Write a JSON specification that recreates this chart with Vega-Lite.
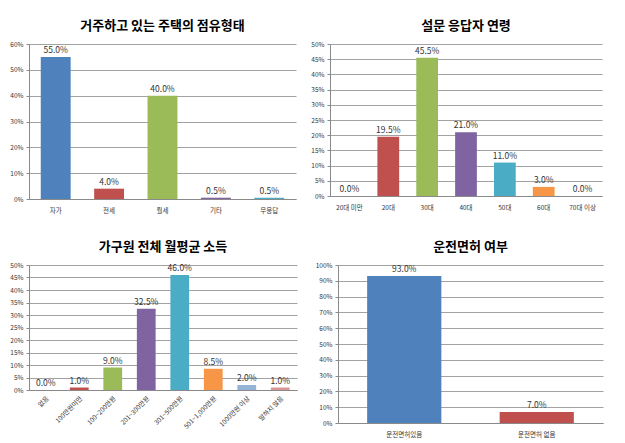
{
  "$schema": "https://vega.github.io/schema/vega-lite/v6.json",
  "background": "white",
  "padding": {"left": 9, "top": 20, "right": 5, "bottom": 5},
  "spacing": 27,
  "datasets": {
    "tenure": [
      {"cat": "자가", "v": 0.55},
      {"cat": "전세", "v": 0.04},
      {"cat": "월세", "v": 0.40},
      {"cat": "기타", "v": 0.005},
      {"cat": "무응답", "v": 0.005}
    ],
    "age": [
      {"cat": "20대 미만", "v": 0.0},
      {"cat": "20대", "v": 0.195},
      {"cat": "30대", "v": 0.455},
      {"cat": "40대", "v": 0.21},
      {"cat": "50대", "v": 0.11},
      {"cat": "60대", "v": 0.03},
      {"cat": "70대 이상", "v": 0.0}
    ],
    "income": [
      {"cat": "없음", "v": 0.0},
      {"cat": "100만원미만", "v": 0.01},
      {"cat": "100~200만원", "v": 0.09},
      {"cat": "201~300만원", "v": 0.325},
      {"cat": "301~500만원", "v": 0.46},
      {"cat": "501~1,000만원", "v": 0.085},
      {"cat": "1000만원 이상", "v": 0.02},
      {"cat": "말하지 않음", "v": 0.01}
    ],
    "license": [
      {"cat": "운전면허있음", "v": 0.93},
      {"cat": "운전면허 없음", "v": 0.07}
    ]
  },
  "resolve": {"scale": {"color": "independent"}},
  "vconcat": [
    {
      "spacing": 14,
      "resolve": {"scale": {"color": "independent"}},
      "hconcat": [
        {
          "title": {"text": "거주하고 있는 주택의 점유형태"},
          "width": 267, "height": 155,
          "data": {"name": "tenure"},
          "encoding": {
            "x": {"field": "cat", "type": "nominal", "sort": null, "scale": {"paddingInner": 0.44, "paddingOuter": 0.22}, "axis": {"title": null, "labelAngle": 0}},
            "y": {"field": "v", "type": "quantitative", "scale": {"domain": [0, 0.6]}, "axis": {"title": null, "format": ".0%", "values": [0, 0.1, 0.2, 0.3, 0.4, 0.5, 0.6]}}
          },
          "layer": [
            {"mark": {"type": "bar"}, "encoding": {"color": {"field": "cat", "type": "nominal", "legend": null, "scale": {"domain": ["자가", "전세", "월세", "기타", "무응답"], "range": ["#4F81BD", "#C0504D", "#9BBB59", "#8064A2", "#4BACC6"]}}}},
            {"mark": {"type": "text", "dy": -7, "fontSize": 8.5, "color": "#333333"}, "encoding": {"text": {"field": "v", "format": ".1%"}}}
          ]
        },
        {
          "title": {"text": "설문 응답자  연령"},
          "width": 272, "height": 152,
          "data": {"name": "age"},
          "encoding": {
            "x": {"field": "cat", "type": "nominal", "sort": null, "scale": {"paddingInner": 0.44, "paddingOuter": 0.22}, "axis": {"title": null, "labelAngle": 0}},
            "y": {"field": "v", "type": "quantitative", "scale": {"domain": [0, 0.5]}, "axis": {"title": null, "format": ".0%", "values": [0, 0.05, 0.1, 0.15, 0.2, 0.25, 0.3, 0.35, 0.4, 0.45, 0.5]}}
          },
          "layer": [
            {"mark": {"type": "bar"}, "encoding": {"color": {"field": "cat", "type": "nominal", "legend": null, "scale": {"domain": ["20대 미만", "20대", "30대", "40대", "50대", "60대", "70대 이상"], "range": ["#4F81BD", "#C0504D", "#9BBB59", "#8064A2", "#4BACC6", "#F79646", "#95B3D7"]}}}},
            {"mark": {"type": "text", "dy": -7, "fontSize": 8.5, "color": "#333333"}, "encoding": {"text": {"field": "v", "format": ".1%"}}}
          ]
        }
      ]
    },
    {
      "spacing": 18,
      "resolve": {"scale": {"color": "independent"}},
      "hconcat": [
        {
          "title": {"text": "가구원 전체 월평균 소득"},
          "width": 268, "height": 125,
          "data": {"name": "income"},
          "encoding": {
            "x": {"field": "cat", "type": "nominal", "sort": null, "scale": {"paddingInner": 0.44, "paddingOuter": 0.22}, "axis": {"title": null, "labelAngle": -45, "labelPadding": 5}},
            "y": {"field": "v", "type": "quantitative", "scale": {"domain": [0, 0.5]}, "axis": {"title": null, "format": ".0%", "values": [0, 0.05, 0.1, 0.15, 0.2, 0.25, 0.3, 0.35, 0.4, 0.45, 0.5]}}
          },
          "layer": [
            {"mark": {"type": "bar"}, "encoding": {"color": {"field": "cat", "type": "nominal", "legend": null, "scale": {"domain": ["없음", "100만원미만", "100~200만원", "201~300만원", "301~500만원", "501~1,000만원", "1000만원 이상", "말하지 않음"], "range": ["#4F81BD", "#C0504D", "#9BBB59", "#8064A2", "#4BACC6", "#F79646", "#95B3D7", "#D99694"]}}}},
            {"mark": {"type": "text", "dy": -7, "fontSize": 8.5, "color": "#333333"}, "encoding": {"text": {"field": "v", "format": ".1%"}}}
          ]
        },
        {
          "title": {"text": "운전면허 여부"},
          "width": 265, "height": 158,
          "data": {"name": "license"},
          "encoding": {
            "x": {"field": "cat", "type": "nominal", "sort": null, "scale": {"paddingInner": 0.44, "paddingOuter": 0.22}, "axis": {"title": null, "labelAngle": 0}},
            "y": {"field": "v", "type": "quantitative", "scale": {"domain": [0, 1]}, "axis": {"title": null, "format": ".0%", "values": [0, 0.1, 0.2, 0.3, 0.4, 0.5, 0.6, 0.7, 0.8, 0.9, 1]}}
          },
          "layer": [
            {"mark": {"type": "bar"}, "encoding": {"color": {"field": "cat", "type": "nominal", "legend": null, "scale": {"domain": ["운전면허있음", "운전면허 없음"], "range": ["#4F81BD", "#C0504D"]}}}},
            {"mark": {"type": "text", "dy": -7, "fontSize": 8.5, "color": "#333333"}, "encoding": {"text": {"field": "v", "format": ".1%"}}}
          ]
        }
      ]
    }
  ],
  "config": {
    "font": "Noto Sans CJK KR",
    "view": {"stroke": null},
    "title": {"fontSize": 13, "fontWeight": "bold", "color": "#000000", "offset": 8, "font": "Noto Sans CJK KR"},
    "axis": {
      "labelFontSize": 6.5,
      "labelColor": "#333333",
      "labelFont": "Noto Sans CJK KR",
      "gridColor": "#8a8a8a",
      "gridWidth": 0.8,
      "domainColor": "#8a8a8a",
      "domainWidth": 1,
      "tickColor": "#8a8a8a",
      "tickSize": 3,
      "labelPadding": 3
    },
    "axisX": {"grid": false, "ticks": false, "labelPadding": 8},
    "axisY": {"domain": true}
  }
}
